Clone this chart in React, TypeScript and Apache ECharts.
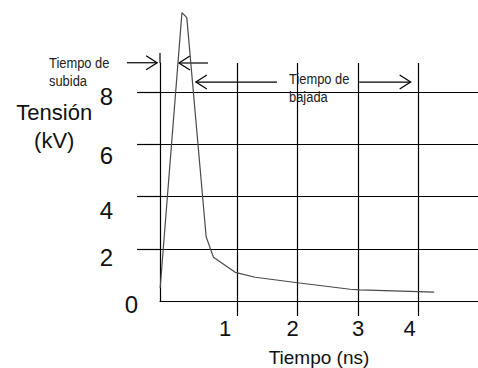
import React, { useEffect, useRef } from 'react';
import * as echarts from 'echarts';

// Pulse: time (ns) vs voltage (kV)
const timeNs = [-0.27, 0.09, 0.17, 0.49, 0.61, 0.97, 1.3, 2.0, 2.87, 3.03, 4.26];
const voltageKV = [0.5, 11.05, 10.86, 2.46, 1.68, 1.1, 0.91, 0.7, 0.45, 0.43, 0.34];

const xTickValues = [1, 2, 3, 4];
const yLabelValues = [0, 2, 4, 6, 8];
const yGridValues = [2, 4, 6, 8];

const xTitle = 'Tiempo (ns)';
const yTitleLines = ['Tensión', '(kV)'];
const riseLabel = 'Tiempo de\nsubida';
const fallLabel = 'Tiempo de\nbajada';

// annotation arrows in data units: [fromT, toT, kV], head at "toT"
const arrows = [
  [-0.82, -0.32, 9.13],
  [0.52, 0.04, 9.12],
  [1.66, 0.32, 8.39],
  [3.02, 3.87, 8.39],
];

// hand-placed label nudges (px) as in the original drawing
const xLabelShift: Record<number, number> = { 1: -12, 2: -5, 3: 0, 4: -9 };
const yLabelShiftDown: Record<number, number> = { 0: 3, 2: 8.5, 4: 14, 6: 11, 8: 4 };
const yLabelShiftLeft: Record<number, number> = { 0: 0, 2: 25, 4: 25, 6: 25, 8: 25 };

const FONT = '"Liberation Sans", Arial, Helvetica, sans-serif';
const INK = '#111';

export default function App() {
  const ref = useRef<HTMLDivElement>(null);

  useEffect(() => {
    document.body.style.margin = '0';
    if (!ref.current) return;
    const chart = echarts.init(ref.current, null, { renderer: 'svg' });
    const xMin = -0.2727;
    const xMax = 4.983;
    const yMax = 9.12;

    const xRich: Record<string, any> = {};
    xTickValues.forEach((v) => {
      const s = xLabelShift[v] || 0;
      xRich['x' + v] = {
        fontSize: 22, fontFamily: FONT, color: INK,
        padding: [0, s < 0 ? -2 * s : 0, 0, s > 0 ? 2 * s : 0],
      };
    });
    const yRich: Record<string, any> = {};
    yLabelValues.forEach((v) => {
      yRich['y' + v] = {
        fontSize: 24, fontFamily: FONT, color: INK,
        padding: [2 * (yLabelShiftDown[v] || 0), yLabelShiftLeft[v] || 0, 0, 0],
      };
    });

    chart.setOption({
      animation: false,
      backgroundColor: '#fff',
      grid: { left: 160, right: 0, top: 63, bottom: 67, containLabel: false, outerBoundsMode: 'none' },
      xAxis: {
        type: 'value',
        min: xMin,
        max: xMax,
        name: xTitle,
        nameLocation: 'middle',
        nameGap: 47,
        nameTextStyle: { fontSize: 19, fontFamily: FONT, color: INK },
        axisLine: { show: true, onZero: false, lineStyle: { color: '#000', width: 1.2 } },
        axisTick: { show: true, customValues: xTickValues, length: 15, lineStyle: { color: '#000', width: 1.2 } },
        axisLabel: {
          show: true,
          customValues: xTickValues,
          margin: 16,
          formatter: (v: number) => `{x${v}|${v}}`,
          rich: xRich,
        },
        splitLine: { show: true, lineStyle: { color: '#000', width: 1.2 } },
      },
      yAxis: {
        type: 'value',
        min: 0,
        max: yMax,
        axisLine: { show: true, onZero: false, lineStyle: { color: '#000', width: 1.2 } },
        axisTick: { show: true, customValues: yGridValues, length: 23, lineStyle: { color: '#000', width: 1.2 } },
        axisLabel: {
          show: true,
          customValues: yLabelValues,
          margin: 22,
          formatter: (v: number) => `{y${v}|${v}}`,
          rich: yRich,
        },
        splitLine: { show: true, lineStyle: { color: '#000', width: 1.2 } },
      },
      series: [
        {
          type: 'line',
          data: timeNs.map((t, i) => [t, voltageKV[i]]),
          showSymbol: false,
          clip: false,
          lineStyle: { color: '#4a4a4a', width: 1.2 },
          silent: true,
        },
      ],
    });

    const px = (t: number, v: number) => chart.convertToPixel({ gridIndex: 0 }, [t, v]) as number[];

    const arrowEls = arrows.map(([from, to, v]) => {
      const [x1, y] = px(from, v);
      const [x2] = px(to, v);
      const dir = Math.sign(x2 - x1);
      return {
        type: 'group',
        children: [
          { type: 'line', shape: { x1, y1: y, x2, y2: y }, style: { stroke: '#000', lineWidth: 1.2 } },
          {
            type: 'polyline',
            shape: { points: [[x2 - dir * 11, y - 7], [x2, y], [x2 - dir * 11, y + 7]] },
            style: { stroke: '#000', lineWidth: 1.2, fill: 'none' },
          },
        ],
      };
    });

    const [axX, axTop] = px(xMin, yMax);
    const [, axTop2] = px(xMin, 9.5);
    const [riseX, riseY] = px(-2.107, 9.46);
    const [fallX, fallY] = px(1.86, 8.87);
    const [titleX, titleY] = px(-2.02, 7.75);

    chart.setOption({
      graphic: [
        { type: 'line', shape: { x1: axX, y1: axTop, x2: axX, y2: axTop2 }, style: { stroke: '#000', lineWidth: 1.2 } },
        ...arrowEls,
        {
          type: 'text',
          x: riseX,
          y: riseY,
          scaleX: 0.86,
          style: { text: riseLabel, fontSize: 15, lineHeight: 18, fontFamily: FONT, fill: '#222', textAlign: 'left', textVerticalAlign: 'top' },
        },
        {
          type: 'text',
          x: fallX,
          y: fallY,
          scaleX: 0.86,
          style: { text: fallLabel, fontSize: 15, lineHeight: 18, fontFamily: FONT, fill: '#222', textAlign: 'left', textVerticalAlign: 'top' },
        },
        {
          type: 'text',
          x: titleX,
          y: titleY,
          style: { text: yTitleLines.join('\n'), fontSize: 22, lineHeight: 28, fontFamily: FONT, fill: INK, textAlign: 'center', textVerticalAlign: 'top' },
        },
      ],
    });

    return () => chart.dispose();
  }, []);

  return <div ref={ref} style={{ width: 478, height: 368 }} />;
}
